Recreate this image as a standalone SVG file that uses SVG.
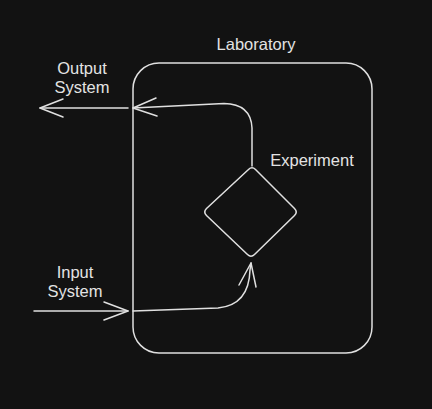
<svg xmlns="http://www.w3.org/2000/svg" width="432" height="409" viewBox="0 0 432 409">
<style>
.s{fill:none;stroke:#e0e0e0;stroke-width:1.5;stroke-linecap:round;stroke-linejoin:round}
.t{font-family:"Liberation Sans",Arial,sans-serif;font-size:16.5px;fill:#e3e3e3;text-anchor:middle}
</style>
<rect width="432" height="409" fill="#121212"/>
<g id="laboratory">
<rect class="s" x="133" y="63" width="239" height="290" rx="26" ry="26"/>
<text class="t" x="256" y="50">Laboratory</text>
</g>
<g id="experiment">
<path class="s" d="M248.5,169.5 Q252,166 255.5,169.5 L294.5,208.5 Q298,212 294.5,215.5 L254.5,254.5 Q251,258 247.5,254.5 L206.5,215.5 Q203,212 206.5,208.5 Z"/>
<text class="t" x="312" y="166">Experiment</text>
</g>
<g id="output-system">
<text class="t" x="82" y="74">Output</text>
<text class="t" x="82" y="93">System</text>
</g>
<g id="input-system">
<text class="t" x="75" y="278">Input</text>
<text class="t" x="75" y="297">System</text>
</g>
<g id="connectors">
<path class="s" d="M252,166 L252,128 Q251,104 224,103.5 L133,108"/>
<path class="s" d="M156,98 L133,108 L157,116"/>
<path class="s" d="M128,108 L40,108"/>
<path class="s" d="M63,99 L40,108 L63,117"/>
<path class="s" d="M34,311 L128,311"/>
<path class="s" d="M104,302 L128,311 L104,320"/>
<path class="s" d="M133,311 L218,308 Q249,305 250,270 L251,263"/>
<path class="s" d="M239,285 L251,263 L256,287"/>
</g>
</svg>
